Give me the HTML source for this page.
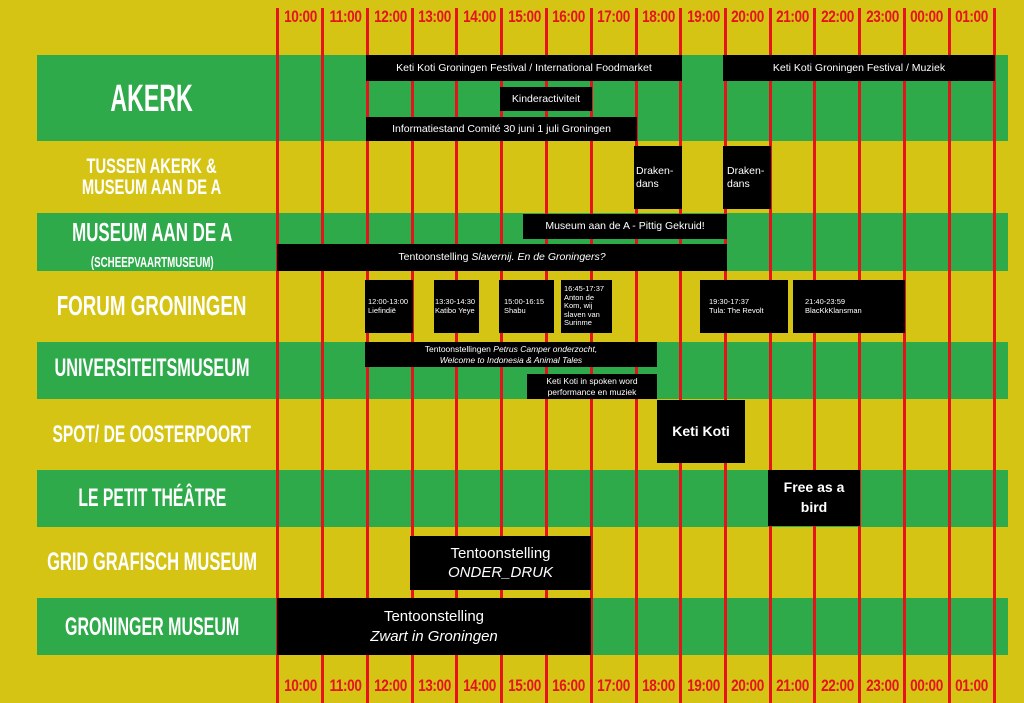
<!DOCTYPE html>
<html><head><meta charset="utf-8"><style>
*{margin:0;padding:0;box-sizing:border-box}
body{width:1024px;height:703px;background:#d6c414;position:relative;overflow:hidden;font-family:"Liberation Sans",sans-serif}
.g{position:absolute;left:37px;width:971px;background:#2eaa4a}
.v{position:absolute;top:8px;bottom:0;width:3px;background:#e5141c}
.t{position:absolute;width:45px;text-align:center;color:#e5141c;font-weight:bold;font-size:17px;transform:scaleX(.8);letter-spacing:-0.5px;white-space:nowrap}
.lab{position:absolute;left:37px;width:230px;display:flex;justify-content:center;color:#fff;font-weight:bold;line-height:1;white-space:nowrap}
.lab span{display:inline-block;text-align:center;transform:scaleX(.65);transform-origin:center}
.b{position:absolute;background:#000;color:#fff;font-size:10.5px;display:flex;align-items:center;justify-content:center;text-align:center;line-height:1.2;white-space:nowrap}
.s{font-size:7.5px;justify-content:flex-start;text-align:left;padding-left:3px;line-height:1.15}
</style></head><body>
<div class="g" style="top:55px;height:86px"></div>
<div class="g" style="top:213px;height:58px"></div>
<div class="g" style="top:342px;height:57px"></div>
<div class="g" style="top:470px;height:57px"></div>
<div class="g" style="top:598px;height:57px"></div>

<div class="v" style="left:276px"></div><div class="v" style="left:321px"></div><div class="v" style="left:366px"></div><div class="v" style="left:411px"></div><div class="v" style="left:455px"></div><div class="v" style="left:500px"></div><div class="v" style="left:545px"></div><div class="v" style="left:590px"></div><div class="v" style="left:635px"></div><div class="v" style="left:679px"></div><div class="v" style="left:724px"></div><div class="v" style="left:769px"></div><div class="v" style="left:813px"></div><div class="v" style="left:858px"></div><div class="v" style="left:903px"></div><div class="v" style="left:948px"></div><div class="v" style="left:993px"></div>

<div class="t" style="left:278px;top:7px">10:00</div><div class="t" style="left:323px;top:7px">11:00</div><div class="t" style="left:368px;top:7px">12:00</div><div class="t" style="left:412px;top:7px">13:00</div><div class="t" style="left:457px;top:7px">14:00</div><div class="t" style="left:502px;top:7px">15:00</div><div class="t" style="left:546px;top:7px">16:00</div><div class="t" style="left:591px;top:7px">17:00</div><div class="t" style="left:636px;top:7px">18:00</div><div class="t" style="left:681px;top:7px">19:00</div><div class="t" style="left:725px;top:7px">20:00</div><div class="t" style="left:770px;top:7px">21:00</div><div class="t" style="left:815px;top:7px">22:00</div><div class="t" style="left:860px;top:7px">23:00</div><div class="t" style="left:904px;top:7px">00:00</div><div class="t" style="left:949px;top:7px">01:00</div>
<div class="t" style="left:278px;top:676px">10:00</div><div class="t" style="left:323px;top:676px">11:00</div><div class="t" style="left:368px;top:676px">12:00</div><div class="t" style="left:412px;top:676px">13:00</div><div class="t" style="left:457px;top:676px">14:00</div><div class="t" style="left:502px;top:676px">15:00</div><div class="t" style="left:546px;top:676px">16:00</div><div class="t" style="left:591px;top:676px">17:00</div><div class="t" style="left:636px;top:676px">18:00</div><div class="t" style="left:681px;top:676px">19:00</div><div class="t" style="left:725px;top:676px">20:00</div><div class="t" style="left:770px;top:676px">21:00</div><div class="t" style="left:815px;top:676px">22:00</div><div class="t" style="left:860px;top:676px">23:00</div><div class="t" style="left:904px;top:676px">00:00</div><div class="t" style="left:949px;top:676px">01:00</div>

<div class="lab" style="top:80px;font-size:38px"><span style="transform:scaleX(.61)">AKERK</span></div>
<div class="lab" style="top:156px;font-size:21px"><span style="transform:scaleX(.7)">TUSSEN AKERK &amp;<br>MUSEUM AAN DE A</span></div>
<div class="lab" style="top:219px;font-size:26px"><span>MUSEUM AAN DE A<br><span style="font-size:15px;transform:none">(SCHEEPVAARTMUSEUM)</span></span></div>
<div class="lab" style="top:292px;font-size:28px"><span style="transform:scaleX(.67)">FORUM GRONINGEN</span></div>
<div class="lab" style="top:356px;font-size:25px"><span>UNIVERSITEITSMUSEUM</span></div>
<div class="lab" style="top:423px;font-size:24px"><span>SPOT/ DE OOSTERPOORT</span></div>
<div class="lab" style="top:486px;font-size:25px"><span style="transform:scaleX(.63)">LE PETIT THÉÂTRE</span></div>
<div class="lab" style="top:550px;font-size:25px"><span style="transform:scaleX(.66)">GRID GRAFISCH MUSEUM</span></div>
<div class="lab" style="top:615px;font-size:25px"><span style="transform:scaleX(.64)">GRONINGER MUSEUM</span></div>

<div class="b" style="left:366px;top:55px;width:316px;height:26px"><span>Keti Koti Groningen Festival / International Foodmarket</span></div>
<div class="b" style="left:723px;top:55px;width:272px;height:26px"><span>Keti Koti Groningen Festival / Muziek</span></div>
<div class="b" style="left:500px;top:87px;width:92px;height:24px"><span>Kinderactiviteit</span></div>
<div class="b" style="left:366px;top:117px;width:271px;height:24px"><span>Informatiestand Comité 30 juni 1 juli Groningen</span></div>
<div class="b" style="left:634px;top:146px;width:48px;height:63px;justify-content:flex-start;text-align:left;padding-left:2px"><span>Draken-<br>dans</span></div>
<div class="b" style="left:723px;top:146px;width:48px;height:63px;justify-content:flex-start;text-align:left;padding-left:4px"><span>Draken-<br>dans</span></div>
<div class="b" style="left:523px;top:214px;width:204px;height:25px"><span>Museum aan de A - Pittig Gekruid!</span></div>
<div class="b" style="left:277px;top:244px;width:450px;height:27px"><span>Tentoonstelling <i>Slavernij. En de Groningers?</i></span></div>
<div class="b s" style="left:365px;top:280px;width:48px;height:53px"><span>12:00-13:00<br>Liefindië</span></div>
<div class="b s" style="left:434px;top:280px;width:45px;height:53px;padding-left:1px"><span>13:30-14:30<br>Katibo Yeye</span></div>
<div class="b s" style="left:499px;top:280px;width:55px;height:53px;padding-left:5px"><span>15:00-16:15<br>Shabu</span></div>
<div class="b s" style="left:561px;top:280px;width:51px;height:53px"><span>16:45-17:37<br>Anton de<br>Kom, wij<br>slaven van<br>Surinme</span></div>
<div class="b s" style="left:700px;top:280px;width:88px;height:53px;padding-left:9px"><span>19:30-17:37<br>Tula: The Revolt</span></div>
<div class="b s" style="left:793px;top:280px;width:112px;height:53px;padding-left:12px"><span>21:40-23:59<br>BlacKkKlansman</span></div>
<div class="b" style="left:365px;top:342px;width:292px;height:25px;font-size:8.5px;line-height:1.25"><span>Tentoonstellingen <i>Petrus Camper onderzocht,</i><br><i>Welcome to Indonesia &amp; Animal Tales</i></span></div>
<div class="b" style="left:527px;top:374px;width:130px;height:25px;font-size:8.5px;line-height:1.25"><span>Keti Koti in spoken word<br>performance en muziek</span></div>
<div class="b" style="left:657px;top:400px;width:88px;height:63px;font-size:14px;font-weight:bold"><span>Keti Koti</span></div>
<div class="b" style="left:768px;top:470px;width:92px;height:56px;font-size:14px;line-height:1.4;font-weight:bold"><span>Free as a<br>bird</span></div>
<div class="b" style="left:410px;top:536px;width:181px;height:54px;font-size:15px;line-height:1.3"><span>Tentoonstelling<br><i>ONDER_DRUK</i></span></div>
<div class="b" style="left:277px;top:598px;width:314px;height:57px;font-size:15px;line-height:1.3"><span>Tentoonstelling<br><i>Zwart in Groningen</i></span></div>
</body></html>
